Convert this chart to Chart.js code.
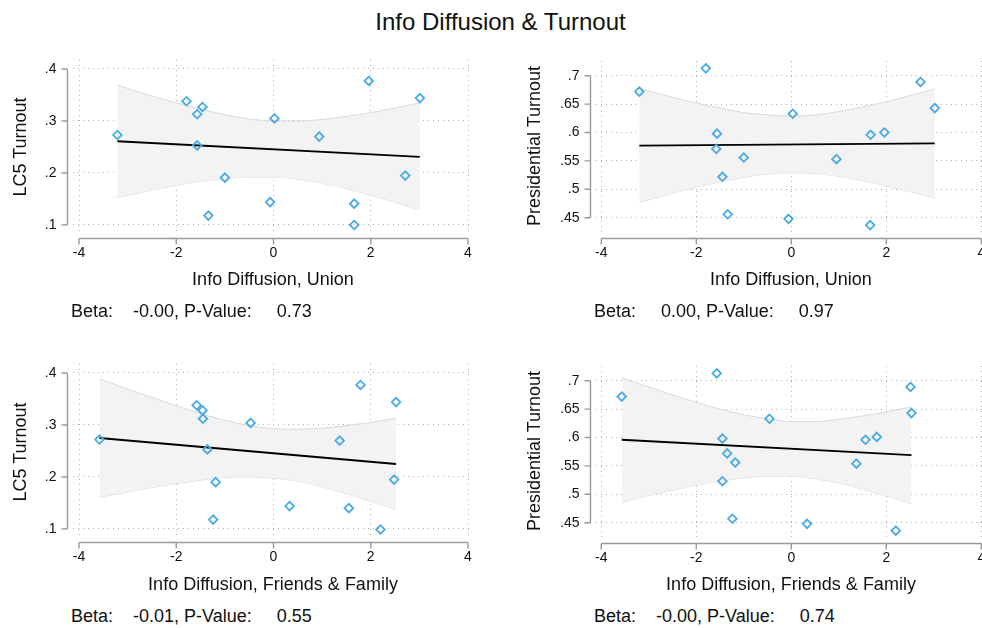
<!DOCTYPE html>
<html>
<head>
<meta charset="utf-8">
<title>Info Diffusion &amp; Turnout</title>
<script src="https://cdn.jsdelivr.net/npm/chart.js@4.4.1/dist/chart.umd.min.js"></script>
<style>
  html, body { margin: 0; padding: 0; background: #fff; overflow: hidden; }
  body { width: 982px; height: 628px; position: relative;
         font-family: "Liberation Sans", Arial, Helvetica, sans-serif; color: #111; }
  canvas { position: absolute; }
  .txt { position: absolute; white-space: pre; line-height: 1; }
  #title { left: 0; width: 1001px; top: 10px; text-align: center; font-size: 24px; }
  .ytitle { font-size: 18px; transform: translate(-50%, -50%) rotate(-90deg); }
  .xtitle { font-size: 18px; transform: translate(-50%, -50%); }
  .beta { font-size: 18px; transform: translateY(-50%); }
</style>
</head>
<body>
<div id="title" class="txt">Info Diffusion &amp; Turnout</div>

<canvas id="c1" width="491" height="272" style="left:0px;top:0px"></canvas>
<canvas id="c2" width="520" height="272" style="left:491px;top:0px"></canvas>
<canvas id="c3" width="491" height="272" style="left:0px;top:304px"></canvas>
<canvas id="c4" width="520" height="272" style="left:491px;top:305px"></canvas>

<div class="txt ytitle" style="left:20px;top:147px">LC5 Turnout</div>
<div class="txt ytitle" style="left:534px;top:146px">Presidential Turnout</div>
<div class="txt ytitle" style="left:20px;top:452px">LC5 Turnout</div>
<div class="txt ytitle" style="left:534px;top:451px">Presidential Turnout</div>

<div class="txt xtitle" id="xt1" style="left:273px;top:279px"></div>
<div class="txt xtitle" id="xt2" style="left:791px;top:279px"></div>
<div class="txt xtitle" id="xt3" style="left:273px;top:584px"></div>
<div class="txt xtitle" id="xt4" style="left:791px;top:584px"></div>

<div class="txt beta" id="b1" style="left:71px;top:311px"></div>
<div class="txt beta" id="b2" style="left:594px;top:311px"></div>
<div class="txt beta" id="b3" style="left:71px;top:616px"></div>
<div class="txt beta" id="b4" style="left:594px;top:616px"></div>

<script>
/******************** 1. DATA ********************/
// x ticks shared by every panel
const xTicks = [-4, -2, 0, 2, 4];
const lc5Ticks = [0.1, 0.2, 0.3, 0.4];
const presTicks = [0.45, 0.5, 0.55, 0.6, 0.65, 0.7];

const xTitles = ["Info Diffusion, Union", "Info Diffusion, Union",
                 "Info Diffusion, Friends & Family", "Info Diffusion, Friends & Family"];
const betaVals = ["-0.00", "0.00", "-0.01", "-0.00"];
const pVals = ["0.73", "0.97", "0.55", "0.74"];

// panel 1: union info diffusion vs LC5 turnout
const unionX1 = [-3.21, -1.79, -1.46, -1.57, -1.57, -1.00, -1.34, 0.02, -0.07, 0.94, 1.96, 1.66, 1.66, 2.71, 3.01];
const lc5Y1 = [0.273, 0.338, 0.327, 0.313, 0.253, 0.191, 0.118, 0.305, 0.144, 0.270, 0.377, 0.141, 0.100, 0.195, 0.344];
const fitX1 = [-3.21, 3.01];
const fitY1 = [0.261, 0.231];
const bandX1 = [-3.21, -2.5, -2, -1.5, -1, -0.5, 0, 0.5, 1, 1.5, 2, 2.5, 3.01];
const bandHi1 = [0.369, 0.348, 0.335, 0.323, 0.312, 0.304, 0.300, 0.300, 0.303, 0.309, 0.316, 0.325, 0.335];
const bandLo1 = [0.153, 0.167, 0.176, 0.184, 0.189, 0.192, 0.192, 0.188, 0.180, 0.170, 0.157, 0.144, 0.129];

// panel 2: union info diffusion vs presidential turnout
const unionX2 = [-3.20, -1.80, -1.565, -1.58, -1.00, -1.45, -1.34, 0.03, -0.06, 0.95, 1.67, 1.96, 1.66, 2.72, 3.02];
const presY2 = [0.672, 0.713, 0.598, 0.571, 0.556, 0.522, 0.456, 0.633, 0.448, 0.553, 0.596, 0.600, 0.437, 0.689, 0.643];
const fitX2 = [-3.20, 3.02];
const fitY2 = [0.577, 0.581];
const bandX2 = [-3.2, -2.5, -2, -1.5, -1, -0.5, 0, 0.5, 1, 1.5, 2, 2.5, 3.02];
const bandHi2 = [0.678, 0.662, 0.652, 0.643, 0.635, 0.631, 0.629, 0.631, 0.637, 0.645, 0.654, 0.665, 0.677];
const bandLo2 = [0.477, 0.493, 0.504, 0.513, 0.521, 0.527, 0.529, 0.528, 0.523, 0.515, 0.506, 0.496, 0.485];

// panel 3: friends & family info diffusion vs LC5 turnout
const ffX3 = [-3.58, -1.58, -1.46, -1.45, -1.36, -1.19, -1.24, -0.47, 0.33, 1.36, 1.79, 1.55, 2.20, 2.48, 2.52];
const lc5Y3 = [0.272, 0.338, 0.328, 0.312, 0.253, 0.190, 0.118, 0.304, 0.144, 0.270, 0.377, 0.140, 0.099, 0.195, 0.344];
const fitX3 = [-3.58, 2.52];
const fitY3 = [0.275, 0.225];
const bandX3 = [-3.58, -3, -2.5, -2, -1.5, -1, -0.5, 0, 0.5, 1, 1.5, 2, 2.52];
const bandHi3 = [0.389, 0.369, 0.353, 0.337, 0.322, 0.309, 0.299, 0.293, 0.292, 0.294, 0.299, 0.305, 0.313];
const bandLo3 = [0.161, 0.171, 0.180, 0.187, 0.194, 0.199, 0.200, 0.198, 0.192, 0.181, 0.168, 0.153, 0.137];

// panel 4: friends & family info diffusion vs presidential turnout
const ffX4 = [-3.57, -1.57, -1.45, -1.35, -1.18, -1.45, -1.24, -0.46, 0.33, 1.37, 1.56, 1.80, 2.20, 2.51, 2.53];
const presY4 = [0.672, 0.713, 0.598, 0.572, 0.556, 0.523, 0.457, 0.633, 0.448, 0.554, 0.596, 0.601, 0.436, 0.689, 0.643];
const fitX4 = [-3.57, 2.53];
const fitY4 = [0.596, 0.569];
const bandX4 = [-3.57, -3, -2.5, -2, -1.5, -1, -0.5, 0, 0.5, 1, 1.5, 2, 2.53];
const bandHi4 = [0.705, 0.689, 0.675, 0.662, 0.650, 0.640, 0.633, 0.628, 0.628, 0.632, 0.638, 0.645, 0.654];
const bandLo4 = [0.486, 0.498, 0.507, 0.516, 0.523, 0.529, 0.532, 0.532, 0.527, 0.520, 0.509, 0.497, 0.483];

/******************** 2. TEXT ********************/
function pad9(s) {
  return s.padStart(9, " ");
}

for (let i = 0; i < 4; i++) {
  document.getElementById("xt" + (i + 1)).textContent = xTitles[i];
  document.getElementById("b" + (i + 1)).textContent =
    "Beta:" + pad9(betaVals[i]) + ", P-Value:" + pad9(pVals[i]);
}

/******************** 3. HELPERS ********************/
const FONT = '"Liberation Sans", Arial, Helvetica, sans-serif';
Chart.defaults.font.family = FONT;
Chart.defaults.color = "#111";

const BLUE = "#48aae6";
const GRID = "#b0b0b0";
const AXIS = "#9a9a9a";

function pts(xs, ys) {
  return xs.map((x, i) => ({ x: x, y: ys[i] }));
}

function noLead(v) {
  return String(v).replace(/^0\./, ".");
}

// Stata-style axes: offset from the plot region, spanning only first..last tick
const stataAxes = {
  id: "stataAxes",
  afterDraw(chart) {
    const { ctx, chartArea } = chart;
    const x = chart.scales.x, y = chart.scales.y;
    const ax = Math.round(chartArea.left - 6.5) + 0.5;
    const ay = Math.round(chartArea.bottom + 5.5) + 0.5;
    const yTop = y.getPixelForValue(y.ticks[y.ticks.length - 1].value);
    const yBot = y.getPixelForValue(y.ticks[0].value);
    const xL = x.getPixelForValue(x.ticks[0].value);
    const xR = x.getPixelForValue(x.ticks[x.ticks.length - 1].value);

    ctx.save();
    ctx.strokeStyle = AXIS;
    ctx.lineWidth = 1.4;
    ctx.beginPath();
    ctx.moveTo(ax, yTop); ctx.lineTo(ax, yBot);
    y.ticks.forEach(t => {
      const p = y.getPixelForValue(t.value);
      ctx.moveTo(ax - 6, p); ctx.lineTo(ax, p);
    });
    ctx.moveTo(xL, ay); ctx.lineTo(xR, ay);
    x.ticks.forEach(t => {
      const p = x.getPixelForValue(t.value);
      ctx.moveTo(p, ay); ctx.lineTo(p, ay + 6);
    });
    ctx.stroke();
    ctx.restore();
  }
};

/******************** 4. PANELS ********************/
function makePanel(cfg) {
  const cv = document.getElementById(cfg.id);
  const H = cv.height;

  new Chart(cv, {
    type: "line",
    data: {
      datasets: [
        {
          data: pts(cfg.xs, cfg.ys),
          showLine: false,
          pointStyle: "rectRot",
          pointRadius: 4.3,
          pointBorderWidth: 1.8,
          pointBorderColor: BLUE,
          pointBackgroundColor: "rgba(255,255,255,0)",
          borderColor: BLUE
        },
        {
          data: pts(cfg.fitX, cfg.fitY),
          borderColor: "#000",
          borderWidth: 1.8,
          pointRadius: 0,
          fill: false
        },
        {
          data: pts(cfg.bandX, cfg.hi),
          borderColor: "#dadada",
          borderWidth: 1,
          backgroundColor: "#f3f3f3",
          fill: "+1",
          pointRadius: 0,
          cubicInterpolationMode: "monotone"
        },
        {
          data: pts(cfg.bandX, cfg.lo),
          borderColor: "#dadada",
          borderWidth: 1,
          fill: false,
          pointRadius: 0,
          cubicInterpolationMode: "monotone"
        }
      ]
    },
    options: {
      responsive: false,
      animation: false,
      layout: { padding: { left: 0, top: cfg.top, right: cfg.right, bottom: 0 } },
      plugins: { legend: { display: false }, tooltip: { enabled: false } },
      scales: {
        x: {
          type: "linear",
          position: "bottom",
          min: cfg.xMin,
          max: cfg.xMax,
          afterBuildTicks: s => { s.ticks = xTicks.map(v => ({ value: v })); },
          afterFit: s => { s.height = H - 232; s.paddingLeft = 0; s.paddingRight = 0; },
          grid: { color: GRID, lineWidth: 1, drawTicks: false },
          border: { display: false, dash: [1, 4] },
          ticks: { autoSkip: false, maxRotation: 0, padding: 12.5, font: { size: 14 }, color: "#111" }
        },
        y: {
          type: "linear",
          position: "left",
          min: cfg.yMin,
          max: cfg.yMax,
          afterBuildTicks: s => { s.ticks = cfg.yTicks.map(v => ({ value: v })); },
          afterFit: s => { s.width = cfg.left; s.paddingTop = 0; s.paddingBottom = 0; },
          grid: { color: GRID, lineWidth: 1, drawTicks: false },
          border: { display: false, dash: [1, 4] },
          ticks: { autoSkip: false, padding: 16.5, font: { size: 14 }, color: "#111", callback: v => noLead(v) }
        }
      }
    },
    plugins: [stataAxes]
  });
}

makePanel({ id: "c1", xs: unionX1, ys: lc5Y1, fitX: fitX1, fitY: fitY1,
  bandX: bandX1, hi: bandHi1, lo: bandLo1, yTicks: lc5Ticks,
  xMin: -4.1234, xMax: 4.0411, yMin: 0.0865, yMax: 0.4173,
  left: 73, top: 60, right: 21 });

makePanel({ id: "c2", xs: unionX2, ys: presY2, fitX: fitX2, fitY: fitY2,
  bandX: bandX2, hi: bandHi2, lo: bandLo2, yTicks: presTicks,
  xMin: -4.1116, xMax: 4.0358, yMin: 0.4248, yMax: 0.7259,
  left: 105, top: 61, right: 28 });

makePanel({ id: "c3", xs: ffX3, ys: lc5Y3, fitX: fitX3, fitY: fitY3,
  bandX: bandX3, hi: bandHi3, lo: bandLo3, yTicks: lc5Ticks,
  xMin: -4.1234, xMax: 4.0411, yMin: 0.0865, yMax: 0.4173,
  left: 73, top: 60, right: 21 });

makePanel({ id: "c4", xs: ffX4, ys: presY4, fitX: fitX4, fitY: fitY4,
  bandX: bandX4, hi: bandHi4, lo: bandLo4, yTicks: presTicks,
  xMin: -4.1116, xMax: 4.0358, yMin: 0.4248, yMax: 0.7259,
  left: 105, top: 61, right: 28 });
</script>
</body>
</html>
